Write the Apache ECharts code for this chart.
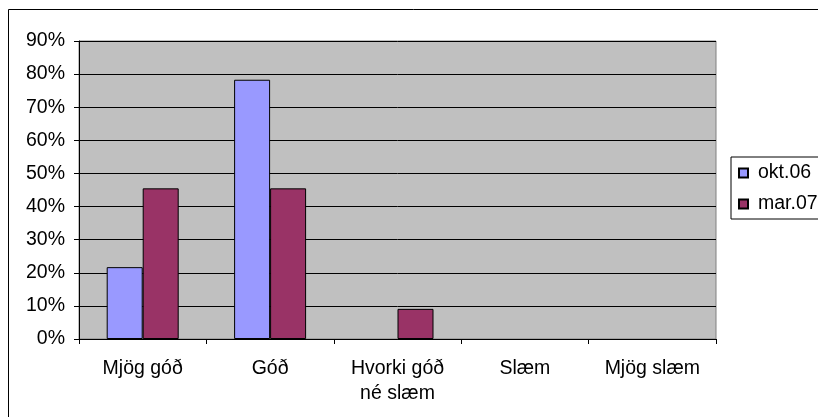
<!DOCTYPE html>
<html>
<head>
<meta charset="utf-8">
<script src="https://cdn.jsdelivr.net/npm/echarts@6/dist/echarts.min.js"></script>
<style>html,body{margin:0;padding:0;background:#fff}#c{width:818px;height:417px}</style>
</head>
<body>
<div id="c"></div>
<script>
const categories = ['Mjög góð', 'Góð', 'Hvorki góð\nné slæm', 'Slæm', 'Mjög slæm'];
const seriesNames = ['okt.06', 'mar.07'];
const okt06 = [21.7, 78.3, 0, 0, 0];
const mar07 = [45.5, 45.5, 9.1, 0, 0];
const yTicks = [0, 10, 20, 30, 40, 50, 60, 70, 80, 90];

const FONT = 'Liberation Sans';
const FS = 19.5;
const noZero = arr => arr.map(v => (v === 0 ? null : v));
const chart = echarts.init(document.getElementById('c'));
chart.setOption({
  animation: false,
  backgroundColor: '#ffffff',
  textStyle: { fontFamily: FONT },
  graphic: [{
    type: 'rect', shape: { x: 8.5, y: 9.5, width: 900, height: 500 },
    style: { fill: 'none', stroke: '#000', lineWidth: 1 }, z: -10
  }],
  grid: {
    left: 79, right: 102, top: 41, bottom: 78,
    show: true, backgroundColor: '#c0c0c0', borderColor: '#808080', borderWidth: 1
  },
  legend: {
    orient: 'vertical', left: 731, top: 157,
    data: seriesNames,
    icon: 'rect', itemWidth: 9, itemHeight: 9, itemGap: 9,
    borderColor: '#000', borderWidth: 1, borderRadius: 0,
    padding: [5, 40, 4, 7],
    textStyle: { fontFamily: FONT, fontSize: FS, color: '#000', padding: [0, 0, 0, 5], lineHeight: 22 }
  },
  xAxis: {
    type: 'category', data: categories,
    axisLine: { lineStyle: { color: '#000', width: 1 } },
    axisTick: { show: true, length: 5, lineStyle: { color: '#000' } },
    axisLabel: { fontFamily: FONT, fontSize: FS, color: '#000', margin: 17, lineHeight: 25 },
    splitLine: { show: false }
  },
  yAxis: {
    type: 'value', min: 0, max: 90, interval: 10,
    axisLine: { show: true, lineStyle: { color: '#000', width: 1 } },
    axisTick: { show: true, length: 5, lineStyle: { color: '#000' } },
    axisLabel: { fontFamily: FONT, fontSize: FS, color: '#000', margin: 14,
      formatter: v => yTicks.includes(v) ? v + '%' : '' },
    splitLine: { show: true, lineStyle: { color: '#000', width: 1 } }
  },
  series: [
    { name: seriesNames[0], type: 'bar', data: noZero(okt06), barWidth: 36, barGap: '0%',
      itemStyle: { color: '#9999ff', borderColor: '#000', borderWidth: 1 } },
    { name: seriesNames[1], type: 'bar', data: noZero(mar07), barWidth: 36, barGap: '0%',
      itemStyle: { color: '#993366', borderColor: '#000', borderWidth: 1 } }
  ]
});
</script>
</body>
</html>
